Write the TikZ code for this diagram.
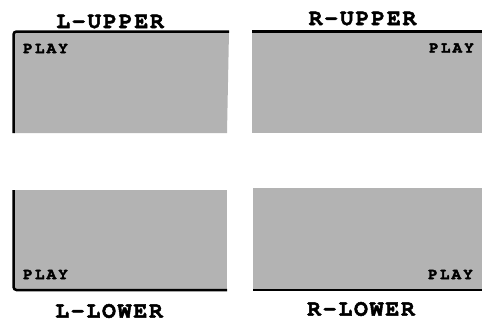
\documentclass[tikz,border=0pt]{standalone}
\usepackage{fontspec}
\newfontfamily\titlefont[LetterSpace=8,FakeBold=2]{texgyrecursor-bold.otf}
\newfontfamily\playfont[LetterSpace=13,FakeBold=2]{texgyrecursor-bold.otf}
\definecolor{boxgray}{RGB}{179,179,179}
\tikzset{
  panel/.style={fill=boxgray},
  edge/.style={line width=2.5pt, black},
  title/.style={inner sep=0pt, font=\titlefont\fontsize{23}{23}\selectfont},
  play/.style={inner sep=0pt, font=\playfont\fontsize{16}{16}\selectfont}
}
\begin{document}
\begin{tikzpicture}[x=1pt,y=-1pt]
\useasboundingbox (0,0) rectangle (482,322);
% upper left
\fill[panel] (13.5,31.5) -- (229,31.5) -- (227,133) -- (13.5,133) -- cycle;
\draw[edge, rounded corners=3pt] (13.5,133) -- (13.5,31.5) -- (229,31.5);
% upper right
\fill[panel] (252,31.5) rectangle (482,133);
\draw[edge] (252,31.5) -- (482,31.5);
% lower left
\fill[panel] (13.5,190) rectangle (227,290);
\draw[edge, rounded corners=3pt] (13.5,190) -- (13.5,290) -- (227,290);
% lower right
\fill[panel] (253,188) rectangle (482,290);
\draw[edge] (253,290) -- (482,290);
% titles
\node[title] (tul) at (110,21.5) {L-UPPER};
\node[title] (tur) at (362.5,18.5) {R-UPPER};
\node[title] (tll) at (109,311) {L-LOWER};
\node[title] (tlr) at (361,309) {R-LOWER};
% play labels
\node[play, anchor=west] (pul) at (23,48.5) {PLAY};
\node[play, anchor=east] (pur) at (474,48) {PLAY};
\node[play, anchor=west] (pll) at (23,274.5) {PLAY};
\node[play, anchor=east] (plr) at (473,274.5) {PLAY};
\end{tikzpicture}
\end{document}
